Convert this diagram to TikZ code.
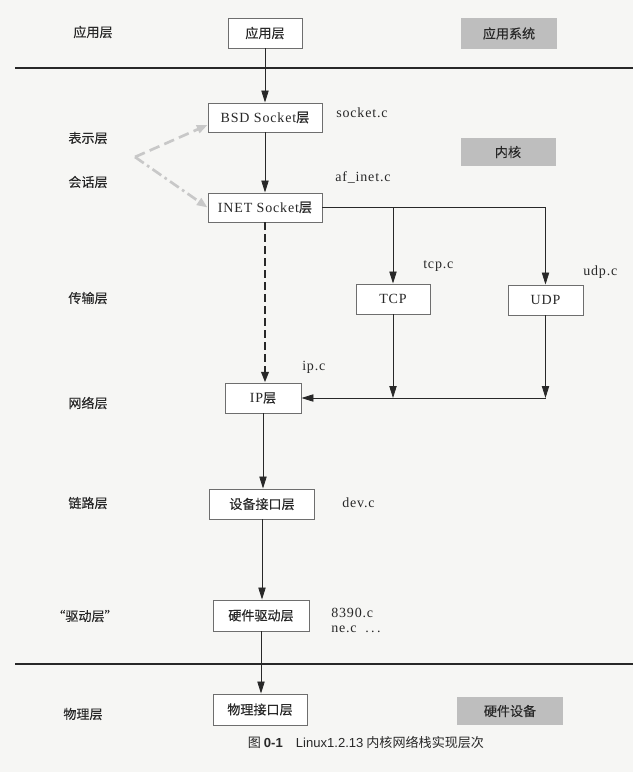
\documentclass[tikz,border=0pt]{standalone}
\usepackage{fontspec}
\setmainfont{Noto Sans CJK SC}[FakeBold=0.2]
\newfontfamily\codefont{Liberation Serif}[LetterSpace=6]
\newfontfamily\capfont{Liberation Sans}
\newfontfamily\capcjk{Noto Sans CJK SC}
\usetikzlibrary{arrows.meta,calc}
\definecolor{bg}{RGB}{246,246,244}
\definecolor{ink}{RGB}{40,40,40}
\definecolor{edge}{RGB}{110,110,110}
\definecolor{graybox}{RGB}{190,190,190}
\definecolor{ghost}{RGB}{200,200,200}
\newcommand\pxu[1]{#1*0.75pt}
\newcommand\cf{\codefont\fontsize{10.5}{12}\selectfont}
\begin{document}
\begin{tikzpicture}[x=0.75pt,y=-0.75pt,
  font=\fontsize{9.8}{12}\selectfont,
  lbox/.style={draw=edge, line width=0.7pt, fill=white, inner sep=0pt, text=ink},
  gbox/.style={fill=graybox, inner sep=0pt, text=ink},
  lab/.style={text=ink, inner sep=0pt},
  code/.style={text=ink, inner sep=0pt, anchor=west, font=\cf},
  arr/.style={draw=ink, line width=0.6pt, -{Triangle[length=9pt,width=5.5pt]}},
  conn/.style={draw=ink, line width=0.6pt},
  dasharr/.style={draw=ink, line width=1.9pt, dash pattern=on 6pt off 3pt, -{Triangle[length=8pt,width=5.5pt]}},
  ghostA/.style={draw=ghost, line width=2pt, dash pattern=on 8pt off 4pt, -{Triangle[length=8pt,width=6pt]}},
  ghostB/.style={draw=ghost, line width=2pt, dash pattern=on 8pt off 3pt on 2pt off 3pt, -{Triangle[length=8pt,width=6pt]}},
  sep/.style={draw=ink, line width=1.1pt}]
\fill[bg] (0,0) rectangle (633,772);
\useasboundingbox (0,0) rectangle (633,772);

% separators
\coordinate (s1a) at (15,68); \coordinate (s1b) at (633,68);
\coordinate (s2a) at (15,664); \coordinate (s2b) at (633,664);
\draw[sep] (s1a) -- (s1b);
\draw[sep] (s2a) -- (s2b);

% left labels
\node[lab] (l1) at (93,32) {应用层};
\node[lab] (l2) at (88,138) {表示层};
\node[lab] (l3) at (88,182) {会话层};
\node[lab] (l4) at (88,298) {传输层};
\node[lab] (l5) at (88,403) {网络层};
\node[lab] (l6) at (88,503) {链路层};
\node[lab] (l7) at (85,616) {“驱动层”};
\node[lab] (l8) at (83,714) {物理层};

% main boxes
\node[lbox, minimum width=\pxu{74}, minimum height=\pxu{30}] (app) at (265,33) {应用层};
\node[lbox, minimum width=\pxu{114}, minimum height=\pxu{29}] (bsd) at (265,117.5) {{\cf BSD Socket}层};
\node[lbox, minimum width=\pxu{114}, minimum height=\pxu{29}] (inet) at (265,207.5) {{\cf INET Socket}层};
\node[lbox, minimum width=\pxu{74}, minimum height=\pxu{30}] (tcp) at (393,299) {\cf TCP};
\node[lbox, minimum width=\pxu{75}, minimum height=\pxu{30}] (udp) at (545.5,300) {\cf UDP};
\node[lbox, minimum width=\pxu{76}, minimum height=\pxu{30}] (ip) at (263,398) {{\cf IP}层};
\node[lbox, minimum width=\pxu{105}, minimum height=\pxu{30}] (dev) at (262,504) {设备接口层};
\node[lbox, minimum width=\pxu{96}, minimum height=\pxu{31}] (drv) at (261,615.5) {硬件驱动层};
\node[lbox, minimum width=\pxu{94}, minimum height=\pxu{31}] (phy) at (260,709.5) {物理接口层};

% gray boxes
\node[gbox, minimum width=\pxu{96}, minimum height=\pxu{31}] (g1) at (509,33.5) {应用系统};
\node[gbox, minimum width=\pxu{95}, minimum height=\pxu{28}] (g2) at (508,152) {内核};
\node[gbox, minimum width=\pxu{106}, minimum height=\pxu{28}] (g3) at (510,711) {硬件设备};

% code labels
\node[code] (c1) at (336,113) {socket.c};
\node[code] (c2) at (335,177) {af\_inet.c};
\node[code] (c3) at (423,266) {tcp.c};
\node[code] (c4) at (583,272) {udp.c};
\node[code] (c5) at (302,367) {ip.c};
\node[code] (c6) at (342,503) {dev.c};
\node[code] (c7) at (331,613) {8390.c};
\node[code] (c8) at (331,629) {ne.c\ \ .\,.\,.};

% connectors
\draw[arr] (app.south) -- (app.south |- bsd.north);
\draw[arr] (bsd.south) -- (bsd.south |- inet.north);
\draw[dasharr] (inet.south) -- (inet.south |- ip.north);
\coordinate (corner) at (inet.east -| udp.north);
\coordinate (branch) at (inet.east -| tcp.north);
\draw[conn] (inet.east) -- (corner);
\draw[arr] (corner) -- (udp.north);
\draw[arr] (branch) -- (tcp.north);
\coordinate (j1) at (tcp.south |- ip.east);
\coordinate (j2) at (udp.south |- ip.east);
\draw[arr] (tcp.south) -- (j1);
\draw[arr] (udp.south) -- (j2);
\draw[arr] (j2) -- (ip.east);
\draw[arr] (ip.south) -- (ip.south |- dev.north);
\draw[arr] (dev.south) -- (dev.south |- drv.north);
\draw[arr] (drv.south) -- (drv.south |- phy.north);

% ghost arrows
\coordinate (gv) at (135,157);
\draw[ghostA] (gv) -- ($(bsd.west)+(0,7.5)$);
\draw[ghostB] (gv) -- (inet.west);

% caption
\node[lab] (cap) at (366,742) {\capcjk 图 {\capfont\bfseries 0-1}\quad{\capfont Linux1.2.13} 内核网络栈实现层次};
\end{tikzpicture}
\end{document}
